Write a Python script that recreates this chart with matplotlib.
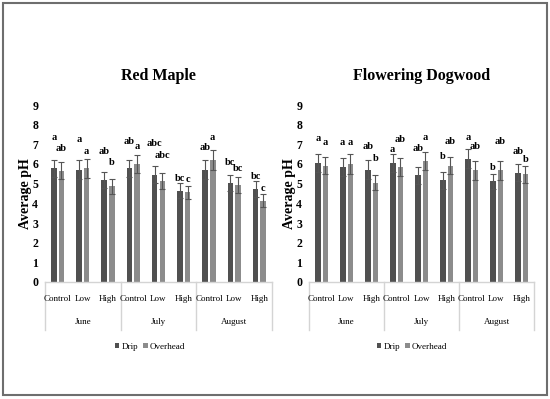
import matplotlib.pyplot as plt
import matplotlib.transforms as mtransforms
from matplotlib.patches import Rectangle
import numpy as np

# Average pH by month / fertilizer level, drip vs overhead irrigation
months = ["June", "July", "August"]
levels = ["Control", "Low", "High"]

maple_drip = [5.78, 5.71, 5.20, 5.78, 5.46, 4.64, 5.71, 5.05, 4.73]
maple_over = [5.66, 5.78, 4.86, 6.00, 5.12, 4.56, 6.22, 4.95, 4.13]
maple_drip_err = [0.44, 0.49, 0.41, 0.44, 0.44, 0.38, 0.49, 0.41, 0.39]
maple_over_err = [0.43, 0.47, 0.38, 0.48, 0.41, 0.34, 0.50, 0.41, 0.34]
maple_drip_let = ["a", "a", "ab", "ab", "abc", "bc", "ab", "bc", "bc"]
maple_over_let = ["ab", "a", "b", "a", "abc", "c", "a", "bc", "c"]
maple_drip_let_y = [7.36, 7.24, 6.65, 7.16, 7.06, 5.24, 6.82, 6.09, 5.37]
maple_over_let_y = [6.80, 6.65, 6.09, 6.90, 6.43, 5.20, 7.36, 5.78, 4.76]

dog_drip = [6.05, 5.85, 5.71, 6.05, 5.42, 5.17, 6.27, 5.12, 5.56]
dog_over = [5.91, 6.01, 5.04, 5.85, 6.15, 5.91, 5.68, 5.68, 5.48]
dog_drip_err = [0.47, 0.48, 0.47, 0.47, 0.43, 0.42, 0.48, 0.39, 0.44]
dog_over_err = [0.44, 0.51, 0.38, 0.46, 0.45, 0.44, 0.47, 0.47, 0.43]
dog_drip_let = ["a", "a", "ab", "a", "ab", "b", "a", "b", "ab"]
dog_over_let = ["a", "a", "b", "ab", "a", "ab", "ab", "ab", "b"]
dog_drip_let_y = [7.28, 7.08, 6.89, 6.72, 6.77, 6.40, 7.33, 5.81, 6.65]
dog_over_let_y = [7.08, 7.08, 6.30, 7.25, 7.36, 7.16, 6.90, 7.14, 6.25]

DRIP_COLOR = "#505050"
OVER_COLOR = "#8c8c8c"
LINE_COLOR = "#d4d4d4"
FONT = "Liberation Serif"

plt.rcParams["font.family"] = FONT


def draw_panel(ax, title, drip, over, drip_err, over_err,
               drip_let, over_let, drip_let_y, over_let_y):
    x = np.arange(len(drip))
    w = 0.22
    off = 0.15
    ax.bar(x - off, drip, w, color=DRIP_COLOR, label="Drip",
           yerr=drip_err, error_kw=dict(ecolor="#555555", elinewidth=0.8,
                                        capsize=2, capthick=0.8))
    ax.bar(x + off, over, w, color=OVER_COLOR, label="Overhead",
           yerr=over_err, error_kw=dict(ecolor="#555555", elinewidth=0.8,
                                        capsize=2, capthick=0.8))

    for i in range(len(x)):
        ax.text(x[i] - off, drip_let_y[i], drip_let[i], ha="center",
                va="center", fontsize=7.5, fontweight="bold")
        ax.text(x[i] + off, over_let_y[i], over_let[i], ha="center",
                va="center", fontsize=7.5, fontweight="bold")

    ax.set_xlim(-0.5, len(x) - 0.5)
    ax.set_ylim(0, 9)
    ax.set_yticks(range(10))
    ax.tick_params(axis="y", length=0, pad=5, labelsize=8.5)
    for lab in ax.get_yticklabels():
        lab.set_fontweight("bold")
    ax.set_xticks([])
    for s in ["left", "right", "top"]:
        ax.spines[s].set_visible(False)
    ax.spines["bottom"].set_color(LINE_COLOR)
    ax.spines["bottom"].set_linewidth(1)

    # two level category axis
    trans = mtransforms.blended_transform_factory(ax.transData, ax.transAxes)
    for i in range(len(x)):
        ax.text(x[i], -0.095, levels[i % 3], transform=trans, ha="center",
                va="center", fontsize=6.5)
    for g, m in enumerate(months):
        ax.text(g * 3 + 1, -0.225, m, transform=trans, ha="center",
                va="center", fontsize=6.5)
    for b in [-0.5, 2.5, 5.5, 8.5]:
        ax.plot([b, b], [0, -0.27], transform=trans, color=LINE_COLOR,
                lw=1, clip_on=False)

    ax.set_title(title, fontsize=11.5, fontweight="bold", pad=18)
    ax.set_ylabel("Average pH", fontsize=10, fontweight="bold")


fig = plt.figure(figsize=(5.5, 3.99), dpi=100)

ax1 = fig.add_axes([45 / 550, 1 - 282 / 399, 227 / 550, 177 / 399])
ax2 = fig.add_axes([309 / 550, 1 - 282 / 399, 225 / 550, 177 / 399])

draw_panel(ax1, "Red Maple", maple_drip, maple_over, maple_drip_err,
           maple_over_err, maple_drip_let, maple_over_let,
           maple_drip_let_y, maple_over_let_y)
draw_panel(ax2, "Flowering Dogwood", dog_drip, dog_over, dog_drip_err,
           dog_over_err, dog_drip_let, dog_over_let,
           dog_drip_let_y, dog_over_let_y)
ax1.yaxis.set_label_coords(-0.058, 0.5)
ax2.yaxis.set_label_coords(-0.06, 0.5)

for ax, cx in [(ax1, 150 / 550), (ax2, 412 / 550)]:
    ax.legend(loc="center", bbox_to_anchor=(cx, 1 - 347 / 399),
              bbox_transform=fig.transFigure, ncol=2, frameon=False,
              fontsize=6.5, handlelength=0.5, handleheight=0.5,
              handletextpad=0.2, columnspacing=0.6)

# outer frame
fig.patches.append(Rectangle((3 / 550, 4 / 399), 544 / 550, 392 / 399,
                             transform=fig.transFigure, fill=False,
                             edgecolor="#6e6e6e", lw=1.5))

fig.savefig("out.png", dpi=100)
